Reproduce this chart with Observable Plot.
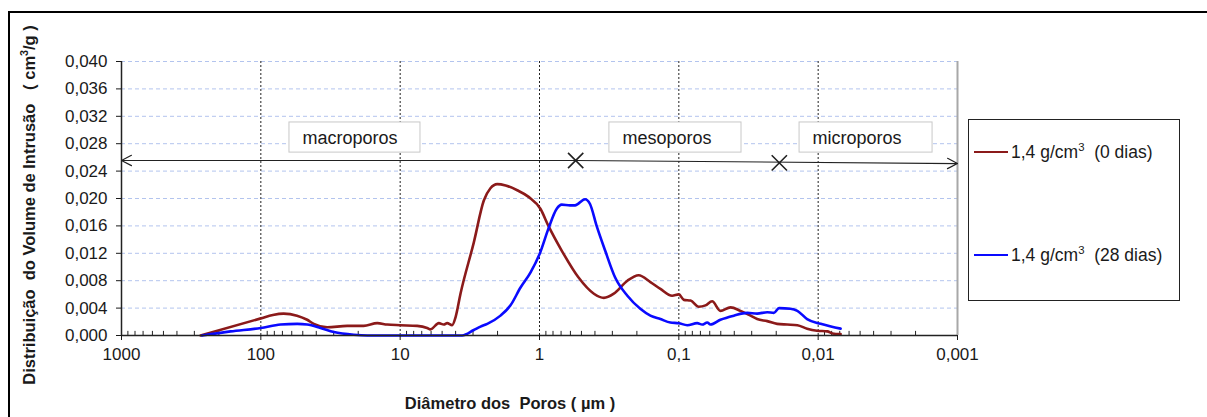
<!DOCTYPE html>
<html><head><meta charset="utf-8">
<script src="https://cdn.jsdelivr.net/npm/d3@7"></script>
<script src="https://cdn.jsdelivr.net/npm/@observablehq/plot@0.6"></script>
<style>
html,body{margin:0;padding:0;background:#fff;}
#wrap{position:relative;width:1207px;height:417px;overflow:hidden;font-family:"Liberation Sans",Arial,sans-serif;color:#1a1a1a;}
#wrap svg{position:absolute;left:0;top:0;}
.frame{position:absolute;left:8px;top:11px;width:1199px;height:406px;border-top:2px solid #000;border-left:2px solid #000;box-sizing:border-box;}
.ytitle{position:absolute;left:29px;top:205px;transform:translate(-50%,-50%) rotate(-90deg);white-space:pre;font-weight:bold;font-size:16.5px;}
.xtitle{position:absolute;left:510px;top:403px;transform:translate(-50%,-50%);white-space:pre;font-weight:bold;font-size:16.5px;}
.legend{position:absolute;left:968px;top:119px;width:212px;height:182px;border:1px solid #222;box-sizing:border-box;background:#fff;}
.item{position:absolute;left:5px;white-space:pre;font-size:17.5px;line-height:20px;}
.item .sw{display:inline-block;width:34px;height:0;border-top:2.5px solid;vertical-align:middle;margin-right:3px;position:relative;top:-1px;}
sup{font-size:0.65em;line-height:0;}
</style></head><body><div id="wrap"></div>
<script>
// ---- data (pore diameter in µm, intrusion distribution in cm3/g) ----
const seriesNames = ["1,4 g/cm³  (0 dias)", "1,4 g/cm³  (28 dias)"];
const redD = [271, 100, 82, 68.7, 55, 46.5, 41.7, 33.4, 24, 18.3, 14.6, 12.4, 10, 7.55, 6.4, 6.06, 5.28, 4.86, 4.6, 4.24, 4.0, 3.69, 2.96, 2.51, 2.25, 2.01, 1.75, 1.445, 1.19, 0.985, 0.863, 0.693, 0.526, 0.407, 0.345, 0.293, 0.234, 0.194, 0.16, 0.1356, 0.1117, 0.1, 0.092, 0.0824, 0.072, 0.0644, 0.0577, 0.0503, 0.0426, 0.0361, 0.0306, 0.0274, 0.0232, 0.0197, 0.0167, 0.0141, 0.012, 0.0102, 0.0086, 0.0079, 0.0069];
const redV = [0, 0.0025, 0.0030, 0.0032, 0.0029, 0.0023, 0.0017, 0.0012, 0.0014, 0.0014, 0.0018, 0.0016, 0.0015, 0.0014, 0.0011, 0.0009, 0.0018, 0.0016, 0.0018, 0.0015, 0.0027, 0.0061, 0.0136, 0.0197, 0.0215, 0.0221, 0.0219, 0.0212, 0.0202, 0.0185, 0.0160, 0.0124, 0.0085, 0.0061, 0.0055, 0.0061, 0.0080, 0.0088, 0.0078, 0.0068, 0.0058, 0.0060, 0.0052, 0.0051, 0.0042, 0.0044, 0.0050, 0.0036, 0.0041, 0.0036, 0.0029, 0.0024, 0.0021, 0.0017, 0.0016, 0.0015, 0.0010, 0.0007, 0.0006, 0.0003, 0.0002];
const blueD = [264, 165, 100, 72.2, 54.8, 46.5, 37.3, 29.9, 21.5, 17.2, 3.59, 2.96, 2.65, 2.37, 1.905, 1.615, 1.368, 1.159, 0.985, 0.863, 0.752, 0.693, 0.604, 0.556, 0.471, 0.434, 0.389, 0.338, 0.287, 0.234, 0.189, 0.16, 0.1356, 0.115, 0.1, 0.087, 0.0738, 0.068, 0.0625, 0.0593, 0.0503, 0.0403, 0.0323, 0.0274, 0.0232, 0.0208, 0.0191, 0.0158, 0.0141, 0.012, 0.0096, 0.0081, 0.0069];
const blueV = [0, 0.0006, 0.0011, 0.0016, 0.0017, 0.0016, 0.0011, 0.0005, 0.0001, 0, 0, 0.0008, 0.0013, 0.0017, 0.0029, 0.0044, 0.0070, 0.0092, 0.0122, 0.0156, 0.0185, 0.0191, 0.0190, 0.0190, 0.0199, 0.0192, 0.0160, 0.0124, 0.0085, 0.0058, 0.0039, 0.0029, 0.0024, 0.0019, 0.0018, 0.0015, 0.0018, 0.0016, 0.0019, 0.0016, 0.0023, 0.0029, 0.0033, 0.0032, 0.0034, 0.0033, 0.0040, 0.0039, 0.0036, 0.0024, 0.0017, 0.0013, 0.0010];
const yTicks = [0, 0.004, 0.008, 0.012, 0.016, 0.020, 0.024, 0.028, 0.032, 0.036, 0.040];
const xDecades = [1000, 100, 10, 1, 0.1, 0.01, 0.001];
const xLabels = ["1000", "100", "10", "1", "0,1", "0,01", "0,001"];
// annotation: pore class regions
const regionNames = ["macroporos", "mesoporos", "microporos"];
const regionBoxX1 = [62.3, 0.315, 0.0136];
const regionBoxX2 = [7.15, 0.0355, 0.00151];
const regionTextX = [50.2, 0.2536, 0.01097];
const regionBoxY1 = 0.0267, regionBoxY2 = 0.0311, regionTextY = 0.02875;
const boundaryD = [0.55, 0.019];
const boundaryV = [0.02555, 0.0252];
const arrowEnds = [{x1: 0.55, y1: 0.02555, x2: 1000, y2: 0.02555}, {x1: 0.55, y1: 0.02555, x2: 0.001, y2: 0.0251}];

const colors = ["#8b1a1a", "#0a0aff"];
const red = redD.map((d, i) => ({d, v: redV[i]}));
const blue = blueD.map((d, i) => ({d, v: blueV[i]}));
const minor = [];
for (let e = -3; e < 3; e++) for (let k = 2; k <= 9; k++) minor.push(k * Math.pow(10, e));
const boxes = regionNames.map((n, i) => ({n, x1: regionBoxX1[i], x2: regionBoxX2[i], tx: regionTextX[i]}));
const fmtY = d => d.toFixed(3).replace(".", ",");

const chart = Plot.plot({
  width: 1207, height: 417,
  marginLeft: 121, marginRight: 250, marginTop: 61, marginBottom: 82,
  x: {type: "log", domain: [1000, 0.001], axis: null},
  y: {domain: [0, 0.04], axis: null},
  style: {fontFamily: "'Liberation Sans', Arial, sans-serif", fontSize: "15px", color: "#1a1a1a", background: "transparent", overflow: "visible"},
  marks: [
    Plot.ruleY(yTicks.slice(1), {stroke: "#b3c4ee", strokeDasharray: "4,3", strokeWidth: 1}),
    Plot.ruleX(xDecades.slice(1, -1), {stroke: "#222", strokeDasharray: "2,2", strokeWidth: 1}),
    Plot.ruleX([0.001], {stroke: "#a8a8a8", strokeWidth: 2}),
    Plot.rect(boxes, {x1: "x1", x2: "x2", y1: regionBoxY1, y2: regionBoxY2, fill: "#fff", stroke: "#c8c8c8", strokeWidth: 1}),
    Plot.text(boxes, {x: "tx", y: regionTextY, text: "n", textAnchor: "start", fontSize: 18, fill: "#1a1a1a"}),
    Plot.arrow(arrowEnds, {x1: "x1", y1: "y1", x2: "x2", y2: "y2", stroke: "#222", strokeWidth: 1.2, headLength: 14, headAngle: 55}),
    Plot.dot(boundaryD.map((d, i) => ({d, v: boundaryV[i]})), {x: "d", y: "v", symbol: "times", r: 7, stroke: "#222", strokeWidth: 1.6}),
    Plot.ruleX(minor, {y1: 0, y2: 0.0006, stroke: "#222", strokeWidth: 1}),
    Plot.line(red, {x: "d", y: "v", stroke: colors[0], strokeWidth: 2.6, curve: "monotone-x"}),
    Plot.line(blue, {x: "d", y: "v", stroke: colors[1], strokeWidth: 2.6, curve: "monotone-x"}),
    Plot.ruleX([1000], {stroke: "#222", strokeWidth: 1.5}),
    Plot.ruleY([0], {stroke: "#222", strokeWidth: 1.5}),
    Plot.axisY({ticks: yTicks, tickFormat: fmtY, tickSize: 5, tickPadding: 9, fontSize: 17, label: null}),
    Plot.axisX({ticks: xDecades, tickFormat: d => xLabels[xDecades.indexOf(d)], tickSize: 5, tickPadding: 7, fontSize: 17, label: null})
  ]
});

const wrap = document.getElementById("wrap");
wrap.appendChild(chart);
const frame = document.createElement("div"); frame.className = "frame"; wrap.appendChild(frame);
const yt = document.createElement("div"); yt.className = "ytitle";
yt.innerHTML = "Distribuição  do Volume de Intrusão   ( cm<sup>3</sup>/g )";
wrap.appendChild(yt);
const xt = document.createElement("div"); xt.className = "xtitle"; xt.textContent = "Diâmetro dos  Poros ( µm )"; wrap.appendChild(xt);
const lg = document.createElement("div"); lg.className = "legend"; wrap.appendChild(lg);
const itemTops = [22, 125];
seriesNames.forEach((n, i) => {
  const it = document.createElement("div"); it.className = "item"; it.style.top = itemTops[i] + "px";
  const sw = document.createElement("span"); sw.className = "sw"; sw.style.borderTopColor = colors[i];
  it.appendChild(sw);
  const t = document.createElement("span");
  t.innerHTML = n.replace("³", "<sup>3</sup>");
  it.appendChild(t);
  lg.appendChild(it);
});
</script></body></html>
